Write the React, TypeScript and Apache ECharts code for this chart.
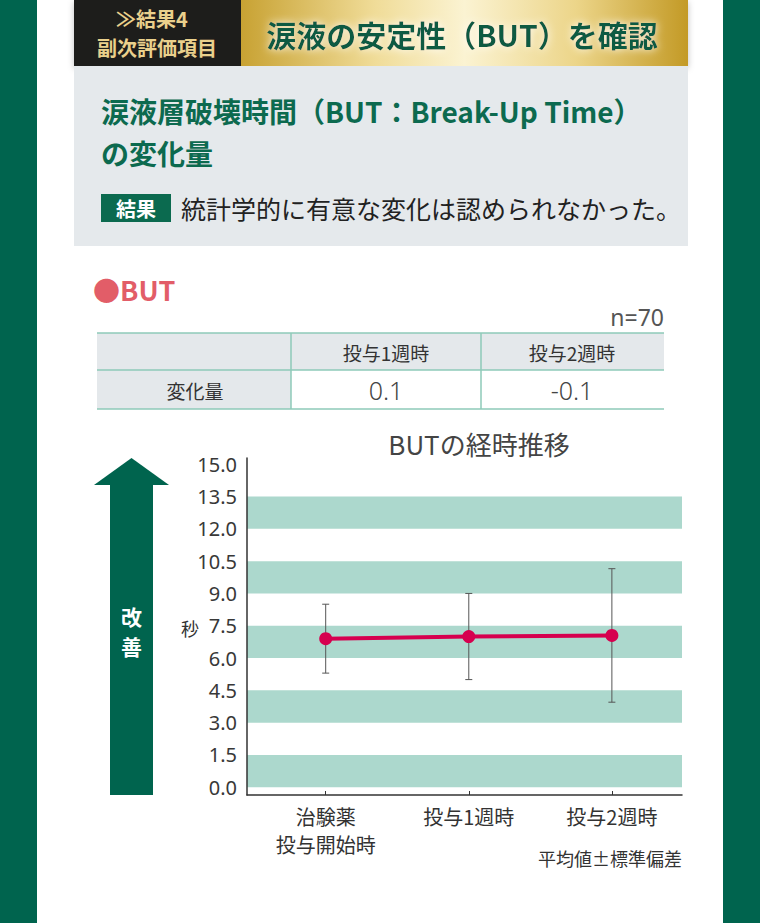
import React, { useEffect, useRef } from "react";
import * as echarts from "echarts";

const categories = ["治験薬\n投与開始時", "投与1週時", "投与2週時"];
const catPositions = [0, 1, 2];
const means = [6.9, 7.0, 7.05];
const sds = [1.6, 2.0, 3.1];
const yTicks = [0, 1.5, 3, 4.5, 6, 7.5, 9, 10.5, 12, 13.5, 15];
const bands = [
  [0, 1.5],
  [3, 4.5],
  [6, 7.5],
  [9, 10.5],
  [12, 13.5],
];
const tableHeaders = ["投与1週時", "投与2週時"];
const tableRowLabel = "変化量";
const tableValues = ["0.1", "-0.1"];

const JP = "'Noto Sans CJK JP', 'Noto Sans', sans-serif";
const NUM = "'Noto Sans', 'Noto Sans CJK JP', sans-serif";
const GREEN = "#00644e";

function txt(x, y, text, o = {}) {
  return {
    type: "text",
    x,
    y,
    z: o.z ?? 10,
    style: {
      text,
      fill: o.fill ?? "#333",
      fontSize: o.size ?? 16,
      fontWeight: o.weight ?? "normal",
      fontFamily: o.family ?? JP,
      align: o.align ?? "left",
      textAlign: o.align ?? "left",
      verticalAlign: "middle",
      textVerticalAlign: "middle",
      textShadowColor: o.shadowColor,
      textShadowBlur: o.shadowBlur,
    },
  };
}

function rect(x, y, w, h, fill, extra = {}) {
  return { type: "rect", shape: { x, y, width: w, height: h }, style: { fill, ...extra }, z: 1 };
}

function line(x1, y1, x2, y2, stroke, lw = 1.5) {
  return { type: "line", shape: { x1, y1, x2, y2 }, style: { stroke, lineWidth: lw }, z: 3 };
}

export default function App() {
  const ref = useRef(null);
  useEffect(() => {
    const chart = echarts.init(ref.current, null, { renderer: "svg" });

    const graphic = [
      // header
      rect(74, 0, 614, 66, "#000", { shadowColor: "rgba(0,0,0,0.25)", shadowBlur: 6, shadowOffsetY: 2 }),
      rect(74, 0, 167, 66, "#1d1d1b"),
      rect(241, 0, 447, 66, {
        type: "linear",
        x: 0,
        y: 0,
        x2: 1,
        y2: 0,
        colorStops: [
          { offset: 0, color: "#c8a233" },
          { offset: 0.3, color: "#f0dc98" },
          { offset: 0.5, color: "#fbf3d2" },
          { offset: 0.75, color: "#ecd589" },
          { offset: 1, color: "#c39a26" },
        ],
      }),
      txt(152, 18, "≫結果4", { fill: "#ead08c", size: 20, weight: "bold", align: "center" }),
      txt(157, 47, "副次評価項目", { fill: "#ead08c", size: 20, weight: "bold", align: "center" }),
      txt(462, 34, "涙液の安定性（BUT）を確認", {
        fill: "#0b5a43",
        size: 30,
        weight: "bold",
        align: "center",
        shadowColor: "#ffffff",
        shadowBlur: 8,
      }),
      // gray panel
      rect(74, 66, 614, 180, "#e5e9ec"),
      txt(101, 111, "涙液層破壊時間（BUT：Break-Up Time）", { fill: "#0c6a4f", size: 28, weight: "bold" }),
      txt(101, 153, "の変化量", { fill: "#0c6a4f", size: 28, weight: "bold" }),
      rect(101, 194, 70, 28, "#0b6a4f"),
      txt(136, 208, "結果", { fill: "#ffffff", size: 20, weight: "bold", align: "center" }),
      txt(181, 208, "統計学的に有意な変化は認められなかった。", { fill: "#222", size: 25 }),
      // BUT section
      txt(93, 289, "●BUT", { fill: "#e25d68", size: 27, weight: "bold" }),
      txt(664, 317, "n=70", { fill: "#555", size: 23, align: "right", family: NUM }),
      // table
      rect(97, 333, 567, 37, "#e4e8eb"),
      rect(97, 370, 194, 39, "#e4e8eb"),
      rect(291, 370, 373, 39, "#ffffff"),
      line(97, 333, 664, 333, "#8ecab9"),
      line(97, 370, 664, 370, "#8ecab9"),
      line(97, 409, 664, 409, "#8ecab9"),
      line(291, 333, 291, 409, "#8ecab9"),
      line(481, 333, 481, 409, "#8ecab9"),
      txt(386, 352, tableHeaders[0], { fill: "#333", size: 19, align: "center" }),
      txt(572, 352, tableHeaders[1], { fill: "#333", size: 19, align: "center" }),
      txt(195, 390, tableRowLabel, { fill: "#333", size: 19, align: "center" }),
      txt(386, 390, tableValues[0], { fill: "#444", size: 25, align: "center", family: NUM, weight: 300 }),
      txt(572, 390, tableValues[1], { fill: "#444", size: 25, align: "center", family: NUM, weight: 300 }),
      // chart title
      txt(479, 443, "BUTの経時推移", { fill: "#444", size: 26, align: "center" }),
      // improvement arrow
      { type: "polygon", shape: { points: [[94, 485], [131.5, 458], [169, 485]] }, style: { fill: GREEN }, z: 2 },
      rect(110, 484, 43, 311, GREEN),
      txt(131.5, 616, "改", { fill: "#ffffff", size: 21, weight: "bold", align: "center" }),
      txt(131.5, 646, "善", { fill: "#ffffff", size: 21, weight: "bold", align: "center" }),
      txt(181, 628, "秒", { fill: "#333", size: 18 }),
      txt(682, 858, "平均値±標準偏差", { fill: "#333", size: 18, align: "right" }),
    ];

    const lineData = catPositions.map((x, i) => [x, means[i]]);
    const errData = catPositions.map((x, i) => [x, means[i] - sds[i], means[i] + sds[i]]);

    chart.setOption({
      animation: false,
      graphic,
      grid: { left: 247, right: 78, top: 458, bottom: 128, containLabel: false },
      xAxis: {
        type: "value",
        z: 20,
        min: -0.55,
        max: 2.49,
        splitLine: { show: false },
        axisLine: { show: true, onZero: false, lineStyle: { color: "#333", width: 1.5 } },
        axisTick: { show: true, inside: true, length: 4, customValues: catPositions, lineStyle: { color: "#333" } },
        axisLabel: {
          customValues: catPositions,
          formatter: (v) => categories[Math.round(v)] ?? "",
          color: "#333",
          fontSize: 20,
          fontFamily: JP,
          lineHeight: 28,
          margin: 7,
          verticalAlign: "top",
        },
      },
      yAxis: {
        type: "value",
        z: 20,
        min: -0.36,
        max: 15.29,
        splitLine: { show: false },
        axisLine: { show: true, onZero: false, lineStyle: { color: "#333", width: 1.5 } },
        axisTick: { show: false },
        axisLabel: {
          customValues: yTicks,
          formatter: (v) => Number(v).toFixed(1),
          color: "#383838",
          fontSize: 20,
          fontFamily: NUM,
          margin: 10,
        },
      },
      series: [
        {
          type: "line",
          data: lineData,
          z: 1,
          symbol: "none",
          lineStyle: { opacity: 0 },
          silent: true,
          markArea: {
            silent: true,
            itemStyle: { color: "#acd8cd" },
            data: bands.map((b) => [{ yAxis: b[0] }, { yAxis: b[1] }]),
          },
        },
        {
          type: "custom",
          z: 3,
          data: errData,
          encode: { x: 0, y: [1, 2] },
          renderItem: (params, api) => {
            const x = api.value(0);
            const lo = api.coord([x, api.value(1)]);
            const hi = api.coord([x, api.value(2)]);
            const c = 3.5;
            const st = { stroke: "#555", lineWidth: 1 };
            return {
              type: "group",
              children: [
                { type: "line", shape: { x1: lo[0], y1: lo[1], x2: hi[0], y2: hi[1] }, style: st },
                { type: "line", shape: { x1: lo[0] - c, y1: lo[1], x2: lo[0] + c, y2: lo[1] }, style: st },
                { type: "line", shape: { x1: hi[0] - c, y1: hi[1], x2: hi[0] + c, y2: hi[1] }, style: st },
              ],
            };
          },
        },
        {
          type: "line",
          data: lineData,
          z: 5,
          symbol: "circle",
          symbolSize: 13,
          itemStyle: { color: "#d6004f" },
          lineStyle: { color: "#d6004f", width: 4 },
        },
      ],
    });
    return () => chart.dispose();
  }, []);

  return (
    <div style={{ position: "absolute", left: 0, top: 0, width: 760, height: 923, background: GREEN }}>
      <div style={{ position: "absolute", left: 37, top: 0, width: 686, height: 923, background: "#ffffff" }} />
      <div ref={ref} style={{ position: "absolute", left: 0, top: 0, width: 760, height: 923 }} />
    </div>
  );
}
